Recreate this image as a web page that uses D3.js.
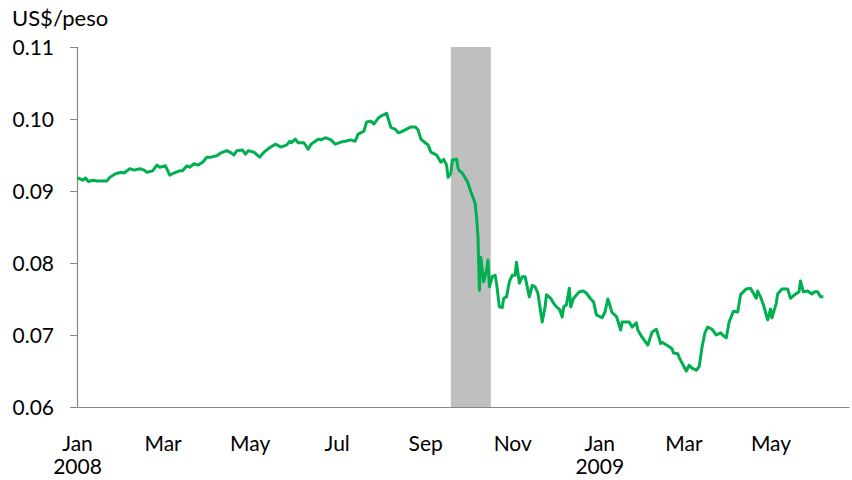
<!DOCTYPE html>
<html><head><meta charset="utf-8">
<script src="https://cdn.jsdelivr.net/npm/d3@7"></script>
<style>
html,body{margin:0;padding:0;background:#fff;}
text{font-family:Lato,"Open Sans",sans-serif;fill:#000;}
</style></head>
<body>
<svg id="c" width="852" height="480"></svg>
<script>
const dates = [
"2008-01-01","2008-01-03","2008-01-05","2008-01-07","2008-01-09","2008-01-12","2008-01-15","2008-01-19","2008-01-22","2008-01-24","2008-01-28",
"2008-02-01","2008-02-03","2008-02-07","2008-02-10","2008-02-14","2008-02-17","2008-02-19","2008-02-23","2008-02-26","2008-02-28",
"2008-03-03","2008-03-06","2008-03-09","2008-03-13","2008-03-15","2008-03-18","2008-03-20","2008-03-23","2008-03-26","2008-03-29",
"2008-04-01","2008-04-04","2008-04-08","2008-04-11","2008-04-15","2008-04-18","2008-04-20","2008-04-22","2008-04-26","2008-04-28","2008-04-30",
"2008-05-04","2008-05-08","2008-05-11","2008-05-15","2008-05-19","2008-05-21","2008-05-23","2008-05-27","2008-05-29","2008-05-30",
"2008-06-02","2008-06-04","2008-06-08","2008-06-11","2008-06-13","2008-06-18","2008-06-20","2008-06-23","2008-06-27","2008-06-30",
"2008-07-04","2008-07-07","2008-07-11","2008-07-14","2008-07-16","2008-07-20","2008-07-22","2008-07-25","2008-07-27","2008-07-30",
"2008-08-01","2008-08-05","2008-08-06","2008-08-08","2008-08-11","2008-08-13","2008-08-15","2008-08-18","2008-08-22","2008-08-25","2008-08-27","2008-08-29",
"2008-09-01","2008-09-03","2008-09-05","2008-09-09","2008-09-12","2008-09-14","2008-09-16","2008-09-17","2008-09-19","2008-09-20","2008-09-23","2008-09-24","2008-09-25","2008-09-27","2008-09-30",
"2008-10-01","2008-10-03","2008-10-04","2008-10-06","2008-10-07","2008-10-08","2008-10-09","2008-10-10","2008-10-11","2008-10-12","2008-10-14","2008-10-15","2008-10-16","2008-10-18","2008-10-20","2008-10-21","2008-10-23","2008-10-25","2008-10-26","2008-10-28","2008-10-30",
"2008-11-01","2008-11-03","2008-11-04","2008-11-06","2008-11-08","2008-11-10","2008-11-13","2008-11-15","2008-11-17","2008-11-19","2008-11-22","2008-11-24","2008-11-25","2008-11-28","2008-11-30",
"2008-12-02","2008-12-04","2008-12-06","2008-12-07","2008-12-09","2008-12-11","2008-12-12","2008-12-14","2008-12-18","2008-12-21","2008-12-23","2008-12-26","2008-12-28","2008-12-30",
"2009-01-03","2009-01-05","2009-01-07","2009-01-08","2009-01-10","2009-01-13","2009-01-16","2009-01-17","2009-01-22","2009-01-24","2009-01-27","2009-01-28","2009-01-31",
"2009-02-04","2009-02-07","2009-02-10","2009-02-13","2009-02-14","2009-02-18","2009-02-21","2009-02-22","2009-02-25","2009-02-26","2009-02-28",
"2009-03-03","2009-03-05","2009-03-07","2009-03-10","2009-03-12","2009-03-14","2009-03-16","2009-03-18","2009-03-21","2009-03-24","2009-03-27","2009-03-29","2009-03-31",
"2009-04-02","2009-04-05","2009-04-08","2009-04-10","2009-04-14","2009-04-17","2009-04-19","2009-04-21","2009-04-22","2009-04-24","2009-04-26","2009-04-29",
"2009-05-01","2009-05-02","2009-05-05","2009-05-06","2009-05-09","2009-05-13","2009-05-15","2009-05-18","2009-05-21","2009-05-22","2009-05-24","2009-05-27","2009-05-30",
"2009-06-01","2009-06-03","2009-06-05","2009-06-07"
];
const values = [
0.0918,0.0917,0.0915,0.0918,0.0913,0.0915,0.0914,0.0914,0.0914,0.0919,0.0924,
0.0926,0.0925,0.0931,0.0929,0.0931,0.0929,0.0926,0.0928,0.0936,0.0933,
0.0935,0.0922,0.0925,0.0928,0.0928,0.0935,0.0933,0.0938,0.0936,0.0940,
0.0947,0.0947,0.0949,0.0953,0.0956,0.0953,0.0950,0.0956,0.0957,0.0951,0.0956,
0.0954,0.0947,0.0954,0.0960,0.0965,0.0963,0.0961,0.0964,0.0969,0.0967,
0.0972,0.0967,0.0967,0.0958,0.0965,0.0972,0.0971,0.0974,0.0971,0.0965,
0.0968,0.0969,0.0971,0.0969,0.0979,0.0983,0.0996,0.0997,0.0993,0.1001,
0.1004,0.1008,0.1001,0.0988,0.0986,0.0981,0.0982,0.0985,0.0989,0.0989,0.0985,0.0972,
0.0967,0.0964,0.0954,0.0950,0.0940,0.0944,0.0936,0.0919,0.0925,0.0943,0.0944,0.0932,0.0928,0.0925,0.0915,
0.0911,0.0899,0.0894,0.0883,0.0864,0.0836,0.0762,0.0808,0.0790,0.0774,0.0790,0.0804,0.0767,0.0781,0.0783,0.0772,0.0739,0.0738,0.0751,0.0753,0.0774,
0.0783,0.0783,0.0801,0.0772,0.0781,0.0781,0.0753,0.0769,0.0767,0.0758,0.0718,0.0739,0.0756,0.0751,0.0744,
0.0739,0.0736,0.0725,0.0739,0.0742,0.0765,0.0739,0.0751,0.0760,0.0761,0.0758,0.0750,0.0746,0.0728,
0.0724,0.0732,0.0750,0.0744,0.0731,0.0726,0.0707,0.0718,0.0718,0.0711,0.0717,0.0707,0.0697,
0.0686,0.0704,0.0708,0.0688,0.0690,0.0685,0.0681,0.0675,0.0674,0.0669,0.0661,
0.0650,0.0658,0.0654,0.0651,0.0656,0.0683,0.0703,0.0711,0.0708,0.0700,0.0703,0.0699,0.0696,
0.0718,0.0733,0.0732,0.0756,0.0764,0.0765,0.0758,0.0751,0.0761,0.0753,0.0742,0.0721,
0.0736,0.0724,0.0744,0.0757,0.0764,0.0764,0.0751,0.0756,0.0760,0.0775,0.0760,0.0761,0.0757,
0.0760,0.0760,0.0753,0.0753
];
const yTicks = [0.06,0.07,0.08,0.09,0.10,0.11];
const xTickDates = ["2008-01-01","2008-03-01","2008-05-01","2008-07-01","2008-09-01","2008-11-01","2009-01-01","2009-03-01","2009-05-01"];
const xTickLabels = [["Jan","2008"],["Mar"],["May"],["Jul"],["Sep"],["Nov"],["Jan","2009"],["Mar"],["May"]];
const band = ["2008-09-19","2008-10-17"];
const yLabel = "US$/peso";

const parse = d3.utcParse("%Y-%m-%d");
const data = dates.map((d,i)=>({date:parse(d), value:values[i]}));

const svg = d3.select("#c");
const x = d3.scaleUtc().domain([parse("2008-01-01"), parse("2009-06-25")]).range([77, 849]);
const y = d3.scaleLinear().domain([0.06, 0.11]).range([407, 47]);

// band
svg.append("rect")
  .attr("x", x(parse(band[0]))).attr("y", y(0.11))
  .attr("width", x(parse(band[1])) - x(parse(band[0])))
  .attr("height", y(0.06) - y(0.11))
  .attr("fill", "#bfbfbf");

// y axis
const yAxis = svg.append("g").attr("transform","translate(77,0)")
  .call(d3.axisLeft(y).tickValues(yTicks).tickFormat(d3.format(".2f")).tickSize(7).tickPadding(16));
yAxis.select(".domain").attr("stroke","#868686").attr("stroke-width",1.2).attr("d","M0.5,47V407.5");
yAxis.selectAll(".tick line").attr("stroke","#868686");
yAxis.selectAll(".tick text").style("font-size","21px").attr("fill","#000").attr("dy","0.35em");

// x axis
const xAxis = svg.append("g").attr("transform","translate(0,407)")
  .call(d3.axisBottom(x).tickValues(xTickDates.map(parse)).tickSize(0).tickFormat(""));
xAxis.select(".domain").attr("stroke","#868686").attr("stroke-width",1.2);
xAxis.selectAll(".tick").each(function(d,i){
  const t = d3.select(this).append("text").attr("text-anchor","middle").style("font-size","21px");
  xTickLabels[i].forEach((s,j)=>{
    t.append("tspan").attr("x",0).attr("y", 44 + j*23).text(s);
  });
});

// line
svg.append("path").datum(data)
  .attr("fill","none").attr("stroke","#00b050").attr("stroke-width",3)
  .attr("stroke-linejoin","round")
  .attr("d", d3.line().x(d=>x(d.date)).y(d=>y(d.value)));

// y label
svg.append("text").attr("x",12).attr("y",26).style("font-size","22px").text(yLabel);
</script>
</body></html>
